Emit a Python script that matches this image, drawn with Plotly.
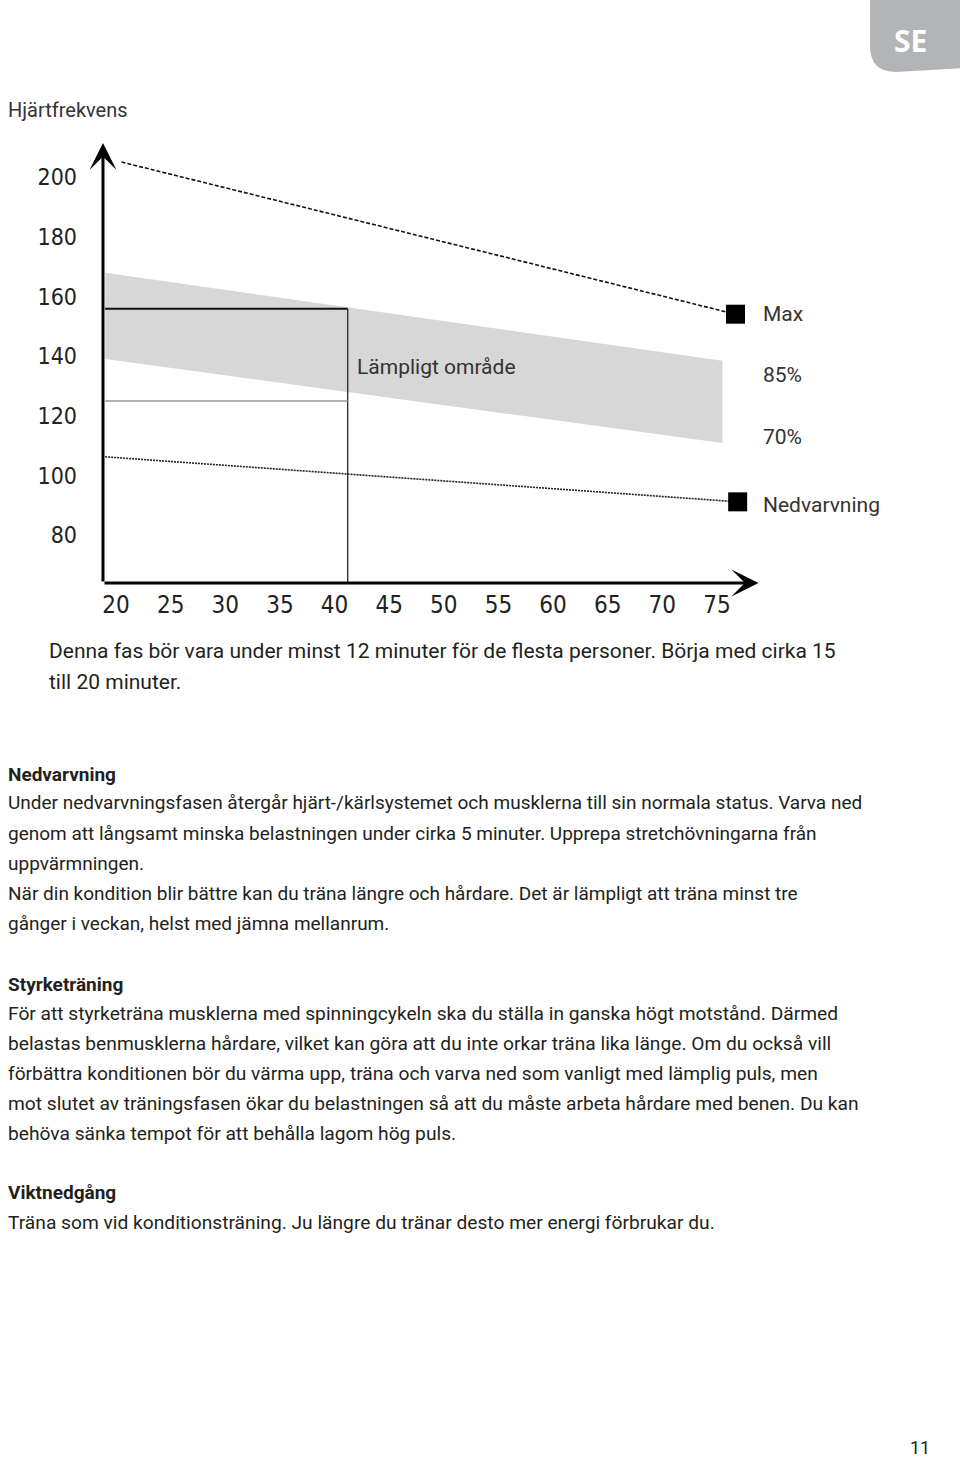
import plotly.graph_objects as go

W, H = 960, 1459

# ---------------- data ----------------
age_ticks = [20, 25, 30, 35, 40, 45, 50, 55, 60, 65, 70, 75]
bpm_ticks = [80, 100, 120, 140, 160, 180, 200]

band_age = [19.0, 75.5]
band_85 = [168.0, 138.5]
band_70 = [139.1, 110.9]

max_age = [20.5, 76.7]
max_bpm = [205.1, 154.1]

cool_age = [19.0, 76.9]
cool_bpm = [106.3, 91.2]

zone_age = [19.0, 41.2]
zone_top = 155.9
zone_mid = 125.0

axis_x0, axis_y0 = 18.8, 64.0
axis_xmax, axis_ymax = 78.8, 211.5

series_labels = ["Max", "85%", "70%", "Nedvarvning"]
series_label_bpm = [154.2, 133.7, 113.0, 90.1]

# ---------------- page text ----------------
TXT = "#231f20"
FONT = "Roboto, sans-serif"
NUMFONT = "Liberation Sans Narrow, DejaVu Sans Condensed, Arial, sans-serif"

# (x px, y px, text, bold, size)
body_lines = [
    (48, 651, "Denna fas bör vara under minst 12 minuter för de flesta personer. Börja med cirka 15", False, 21),
    (48, 682, "till 20 minuter.", False, 21),
    (7, 774, "Nedvarvning", True, 19),
    (7, 803, "Under nedvarvningsfasen återgår hjärt-/kärlsystemet och musklerna till sin normala status. Varva ned", False, 19),
    (7, 833, "genom att långsamt minska belastningen under cirka 5 minuter. Upprepa stretchövningarna från", False, 19),
    (7, 863, "uppvärmningen.", False, 19),
    (7, 893, "När din kondition blir bättre kan du träna längre och hårdare. Det är lämpligt att träna minst tre", False, 19),
    (7, 923, "gånger i veckan, helst med jämna mellanrum.", False, 19),
    (7, 984, "Styrketräning", True, 19),
    (7, 1013, "För att styrketräna musklerna med spinningcykeln ska du ställa in ganska högt motstånd. Därmed", False, 19.2),
    (7, 1043, "belastas benmusklerna hårdare, vilket kan göra att du inte orkar träna lika länge. Om du också vill", False, 19.2),
    (7, 1073, "förbättra konditionen bör du värma upp, träna och varva ned som vanligt med lämplig puls, men", False, 19.2),
    (7, 1103, "mot slutet av träningsfasen ökar du belastningen så att du måste arbeta hårdare med benen. Du kan", False, 19.2),
    (7, 1133, "behöva sänka tempot för att behålla lagom hög puls.", False, 19.2),
    (7, 1192, "Viktnedgång", True, 19),
    (7, 1222, "Träna som vid konditionsträning. Ju längre du tränar desto mer energi förbrukar du.", False, 19.2),
]


def px(x, y):
    return x / W, 1 - y / H


fig = go.Figure()

# band (70% - 85%)
fig.add_trace(go.Scatter(
    x=band_age + band_age[::-1],
    y=band_85 + band_70[::-1],
    fill="toself", fillcolor="#d7d7d7", line=dict(width=0),
    mode="lines", hoverinfo="skip", showlegend=False))

# zone box
fig.add_trace(go.Scatter(
    x=[zone_age[0], zone_age[1]],
    y=[zone_top, zone_top],
    mode="lines", line=dict(color="#111", width=2),
    hoverinfo="skip", showlegend=False))
fig.add_trace(go.Scatter(
    x=[zone_age[1], zone_age[1]],
    y=[zone_top, axis_y0],
    mode="lines", line=dict(color="#333", width=1.4),
    hoverinfo="skip", showlegend=False))
fig.add_trace(go.Scatter(
    x=zone_age, y=[zone_mid, zone_mid],
    mode="lines", line=dict(color="#9a9a9a", width=1.6),
    hoverinfo="skip", showlegend=False))

# max line
fig.add_trace(go.Scatter(
    x=max_age, y=max_bpm, mode="lines",
    line=dict(color="#111", width=1.6, dash="4px,2px"),
    showlegend=False))
fig.add_trace(go.Scatter(
    x=[max_age[-1]], y=[max_bpm[-1]], mode="markers",
    marker=dict(symbol="square", size=19, color="#000"),
    showlegend=False))

# cool-down line
fig.add_trace(go.Scatter(
    x=cool_age, y=cool_bpm, mode="lines",
    line=dict(color="#222", width=1.6, dash="2px,1px"),
    showlegend=False))
fig.add_trace(go.Scatter(
    x=[cool_age[-1]], y=[cool_bpm[-1]], mode="markers",
    marker=dict(symbol="square", size=19, color="#000"),
    showlegend=False))

annotations = []

# axis arrows
annotations.append(dict(x=axis_x0, y=axis_ymax, ax=axis_x0, ay=axis_y0,
                        xref="x", yref="y", axref="x", ayref="y", text="",
                        showarrow=True, arrowhead=3, arrowsize=1.5,
                        arrowwidth=3, arrowcolor="#000"))
annotations.append(dict(x=axis_xmax, y=axis_y0, ax=axis_x0, ay=axis_y0,
                        xref="x", yref="y", axref="x", ayref="y", text="",
                        showarrow=True, arrowhead=3, arrowsize=1.5,
                        arrowwidth=3, arrowcolor="#000"))

LABFONT = dict(family=FONT, size=21, color="#333")
# series labels
for lab, b in zip(series_labels, series_label_bpm):
    annotations.append(dict(x=79.0, y=b, xref="x", yref="y", text=lab,
                            showarrow=False, xanchor="left", yanchor="middle",
                            font=LABFONT))
annotations.append(dict(x=79.9, y=63.6, xref="x", yref="y", text="Ålder",
                        showarrow=False, xanchor="left", yanchor="middle",
                        font=LABFONT))
annotations.append(dict(x=41.9, y=136.4, xref="x", yref="y", text="Lämpligt område",
                        showarrow=False, xanchor="left", yanchor="middle",
                        font=LABFONT))

# title
tx, ty = px(6, 110)
annotations.append(dict(x=tx, y=ty, xref="paper", yref="paper", text="Hjärtfrekvens",
                        showarrow=False, xanchor="left", yanchor="middle",
                        font=dict(family=FONT, size=20, color="#333")))

# body text
for x0, y0, t, bold, fs in body_lines:
    bx, by = px(x0 - 1, y0)
    annotations.append(dict(x=bx, y=by, xref="paper", yref="paper",
                            text=f"<b>{t}</b>" if bold else t,
                            showarrow=False, xanchor="left", yanchor="middle",
                            font=dict(family=FONT, size=fs, color=TXT)))

# SE badge text and page number
sx, sy = px(910, 40)
annotations.append(dict(x=sx, y=sy, xref="paper", yref="paper", text="<b>SE</b>",
                        showarrow=False, xanchor="center", yanchor="middle",
                        font=dict(family="Open Sans, sans-serif", size=30, color="#ffffff")))
nx, ny = px(920, 1447)
annotations.append(dict(x=nx, y=ny, xref="paper", yref="paper", text="11",
                        showarrow=False, xanchor="center", yanchor="middle",
                        font=dict(family=FONT, size=18, color=TXT)))

# badge shape (rounded bottom-left corner)
r = 26
x0, y0b = 870, 72
def P(x, y):
    return f"{x / W},{1 - y / H}"
badge_path = (f"M {P(x0, 0)} L {P(W + 5, 0)} L {P(W + 5, y0b - 4)} L {P(x0 + r, y0b)} "
              f"Q {P(x0, y0b)} {P(x0, y0b - r)} Z")

# axes mapping: px = 116.1 + (age-20)*10.924 ; py = 356.27 - (bpm-140)*2.983
xr = [18.8, 80.0]
yr = [64.0, 215.0]
x_px = [116.1 + (a - 20) * 10.924 for a in xr]
y_px = [356.27 - (b - 140) * 2.983 for b in yr]

fig.update_layout(
    width=W, height=H,
    margin=dict(l=0, r=0, t=0, b=0),
    paper_bgcolor="white", plot_bgcolor="rgba(0,0,0,0)",
    showlegend=False,
    annotations=annotations,
    shapes=[dict(type="path", path=badge_path, xref="paper", yref="paper",
                 fillcolor="#b3b4b6", line=dict(width=0), layer="below")],
    xaxis=dict(range=xr, domain=[x_px[0] / W, x_px[1] / W],
               tickvals=age_ticks, ticktext=[str(a) for a in age_ticks],
               showgrid=False, zeroline=False, showline=False, ticks="",
               ticklabelstandoff=5,
               tickfont=dict(family=NUMFONT, size=24, color="#222"),
               fixedrange=True),
    yaxis=dict(range=yr, domain=[1 - y_px[0] / H, 1 - y_px[1] / H],
               tickvals=bpm_ticks, ticktext=[str(b) for b in bpm_ticks],
               showgrid=False, zeroline=False, showline=False, ticks="",
               ticklabelstandoff=25,
               tickfont=dict(family=NUMFONT, size=23, color="#222"),
               fixedrange=True),
)

fig.write_html("out.html", config={"displayModeBar": False},
               post_script="document.body.style.margin='0';document.body.style.overflow='hidden';")
